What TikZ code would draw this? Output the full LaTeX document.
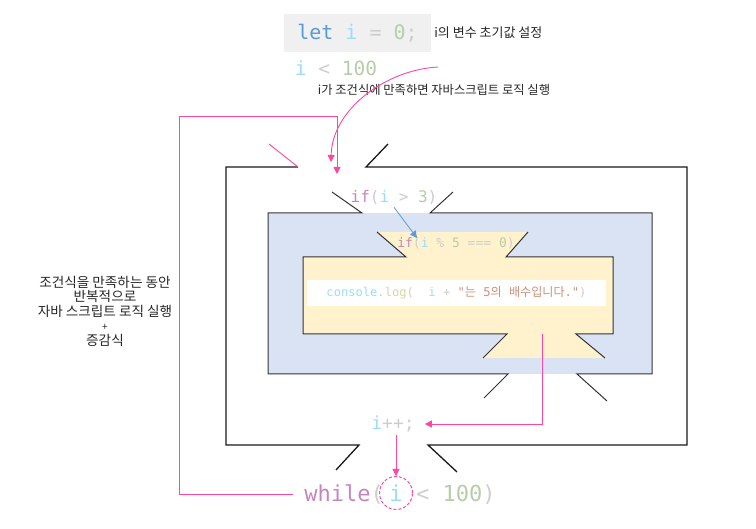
\documentclass[tikz,border=0pt]{standalone}
\usepackage{fontspec}
\setmainfont{Noto Sans CJK KR}
\setmonofont{DejaVu Sans Mono}
\newfontfamily\krfont{Noto Sans CJK KR}
\usetikzlibrary{positioning,calc,arrows.meta}
\definecolor{jskey}{RGB}{86,156,214}
\definecolor{jsvar}{RGB}{156,220,254}
\definecolor{jsnum}{RGB}{181,206,168}
\definecolor{jsop}{RGB}{205,205,205}
\definecolor{jsctl}{RGB}{197,134,192}
\definecolor{jsfn}{RGB}{215,215,160}
\definecolor{jsstr}{RGB}{206,145,120}
\definecolor{loopblue}{RGB}{218,227,243}
\definecolor{ifyellow}{RGB}{255,242,204}
\definecolor{letgray}{RGB}{240,240,240}
\definecolor{flowpink}{RGB}{255,70,160}
\definecolor{hintblue}{RGB}{91,155,213}

\begin{document}
\begin{tikzpicture}[x=1pt,y=-1pt,>={Triangle[width=7pt,length=7pt]},
          code/.style ={font=\ttfamily\fontsize{#1}{#1}\selectfont,inner sep=3pt},
          note/.style ={font=\fontsize{#1}{14.5}\selectfont,text=black!85,align=center,inner sep=3pt},
          frame/.style={line width=1.3pt,black!90},
          box/.style  ={line width=1pt,black!80},
          pk/.style   ={draw=flowpink,line width=0.9pt},
          hint/.style ={draw=hintblue,line width=0.8pt}]
        \useasboundingbox (0,0) rectangle (756,529);
        \fill[loopblue] (268,213) rectangle (652,374);
        \fill[ifyellow] (377,232) -- (528,232) -- (506,257) -- (613,257) -- (613,334) -- (576,334) -- (605,358)
                        -- (483,358) -- (507,334) -- (303,334) -- (303,257) -- (406,257) -- cycle;
        \draw[frame] (298,167) -- (226,167) -- (226,445) -- (359,445) -- (336,470);
        \draw[frame] (388,144) -- (366,167) -- (687,167) -- (687,445) -- (428,445) -- (457,472);
        \draw[pk] (269,144) -- (298,167);
        \draw[box] (332,192) -- (362,213) -- (268,213) -- (268,374) -- (508,374) -- (484,398);
        \draw[box] (453,192) -- (430,213) -- (652,213) -- (652,374) -- (577,374) -- (607,401);
        \draw[box] (377,232) -- (406,257) -- (303,257) -- (303,334) -- (507,334) -- (483,358);
        \draw[box] (528,232) -- (506,257) -- (613,257) -- (613,334) -- (576,334) -- (605,358);
        \node[code=20,fill=letgray,minimum width=147pt,minimum height=38pt] (let) at (357.5,33)
             {\textcolor{jskey}{let} \textcolor{jsvar}{i} \textcolor{jsop}{=} \textcolor{jsnum}{0}\textcolor{jsop}{;}};
        \node[note=13] (letlbl) [right=0pt of let] {i의 변수 초기값 설정};
        \node[code=19.5] (cond) at (336,68) {\textcolor{jsvar}{i} \textcolor{jsop}{<} \textcolor{jsnum}{100}};
        \node[note=12.3] (condlbl) at (434,90) {i가 조건식에 만족하면 자바스크립트 로직 실행};
        \node[note=13.6] (looplbl) at (105,311) {조건식을 만족하는 동안\\반복적으로\\자바 스크립트 로직 실행\\{\fontsize{10}{14.5}\selectfont +}\\증감식};
        \node[code=16] (if3) at (394,197) {\textcolor{jsctl}{if}\textcolor{jsop}{(}\textcolor{jsvar}{i} \textcolor{jsop}{>} \textcolor{jsnum}{3}\textcolor{jsop}{)}};
        \node[code=13] (if5) at (456,243) {\textcolor{jsctl}{if}\textcolor{jsop}{(}\textcolor{jsvar}{i} \textcolor{jsop}{\%} \textcolor{jsnum}{5} \textcolor{jsop}{===} \textcolor{jsnum}{0}\textcolor{jsop}{)}};
        \node[code=12.1,fill=white,minimum width=299pt,minimum height=26pt] (log) at (456.5,293)
             {\textcolor{jsvar}{console}\textcolor{jsop}{.}\textcolor{jsfn}{log}\textcolor{jsop}{(}~ \textcolor{jsvar}{i} \textcolor{jsop}{+} \textcolor{jsstr}{"{\krfont 는} 5{\krfont 의} {\krfont 배수입니다}."}\textcolor{jsop}{)}};
        \node[code=18] (inc) at (393,424) {\textcolor{jsvar}{i}\textcolor{jsop}{++;}};
        \node[code=22,draw=flowpink,dash pattern=on 3pt off 2pt,line width=1pt,circle,minimum size=33pt,inner sep=0pt] (wi) at (396,493) {\textcolor{jsvar}{i}};
        \node[code=22,anchor=base east] (wl) at ([xshift=8pt]wi.base west) {\textcolor{jsctl}{while}\textcolor{jsop}{(}};
        \node[code=22,anchor=base west] (wr) at (wi.base east) {\textcolor{jsop}{<} \textcolor{jsnum}{100}\textcolor{jsop}{)}};
        \coordinate (loopin) at (337,174);
        \coordinate (cstart) at (438,67);
        \coordinate (cend) at (331,162);
        \coordinate (ybot) at (542,334);
        \coordinate (hintend) at (417,238);
        \draw[pk,->] ([xshift=-8pt]wl.west) -| (179,116) -| (loopin);
        \draw[pk,->] (cstart) .. controls (385,70) and (332,110) .. (cend);
        \draw[pk,->] (ybot) |- ([xshift=7pt]inc.east);
        \draw[pk,->] (inc.south -| wi.north) -- (wi.north);
        \draw[hint,->] (if3.south) -- (hintend);
      \end{tikzpicture}
\end{document}
